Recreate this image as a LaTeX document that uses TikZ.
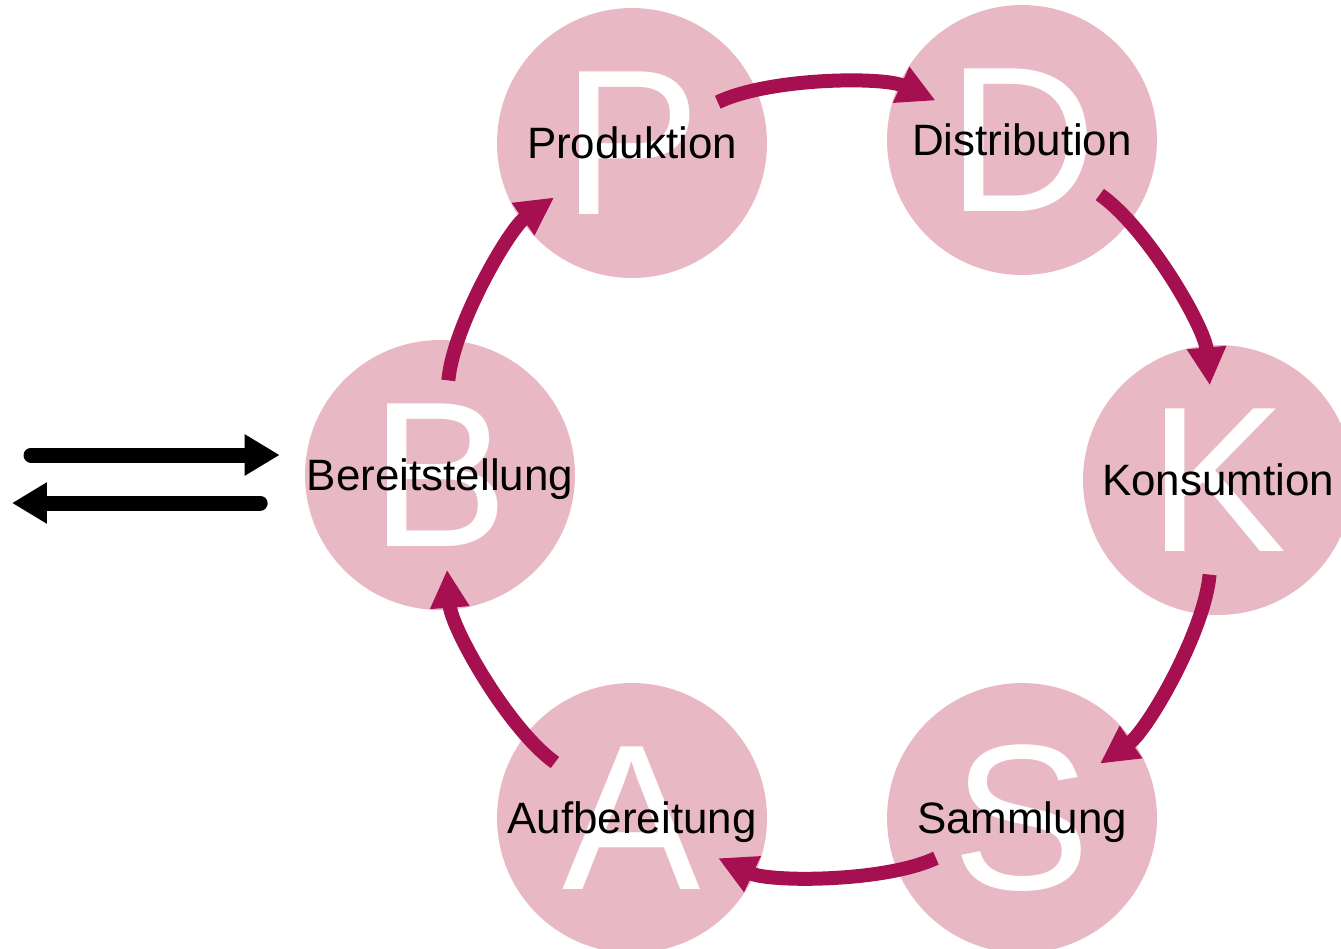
\documentclass[tikz,border=0pt]{standalone}
\usepackage{fontspec}
\setmainfont{Liberation Sans}
\usetikzlibrary{arrows.meta,calc}
\definecolor{diskpink}{RGB}{232,185,196}
\definecolor{flowred}{RGB}{166,15,80}

\begin{document}
\begin{tikzpicture}[x=0.02cm,y=0.02cm,
  disk/.style={circle,fill=diskpink,minimum size=5.4cm,inner sep=0pt,text=white,
    font=\fontsize{118}{118}\selectfont},
  lbl/.style={inner sep=0pt,text height=18pt,text depth=0pt,font=\fontsize{25}{30}\selectfont},
  flow/.style={flowred,line width=0.28cm,-{Triangle[length=0.76cm,width=0.74cm]},
    shorten <=1.9cm,shorten >=1.9cm,bend left=25},
  io/.style={line width=0.3cm,line cap=round,-{Triangle[length=0.7cm,width=0.78cm]}}]
  \useasboundingbox (0,0) rectangle (1341,-948);
  % ---------------- stations on the ring ----------------
  \node[disk] (B) at (440,-475) {B};
  \node[disk] (P) at (632,-143) {P};
  \node[disk] (D) at (1022,-140) {D};
  \node[disk] (K) at (1218,-480) {K};
  \node[disk] (S) at (1022,-818) {S};
  \node[disk] (A) at (632,-818) {A};
  \foreach \n/\t in {B/Bereitstellung,P/Produktion,D/Distribution,K/Konsumtion,S/Sammlung,A/Aufbereitung}
    \node[lbl] (\n-lab) at (\n) {\t};

  % ---------------- cycle arrows ----------------
  \foreach \a/\b in {B/P,P/D,D/K,K/S,S/A,A/B}
    \draw[flow] (\a.center) to (\b.center);

  % ---------------- exchange with outside ----------------
  \coordinate (inL) at (31,-455);
  \coordinate (outL) at (12,-503);
  \draw[io] (inL) -- ($(B.west)+(-25,20)$);
  \draw[io] ($(B.west)+(-44.5,-28)$) -- (outL);
\end{tikzpicture}
\end{document}
